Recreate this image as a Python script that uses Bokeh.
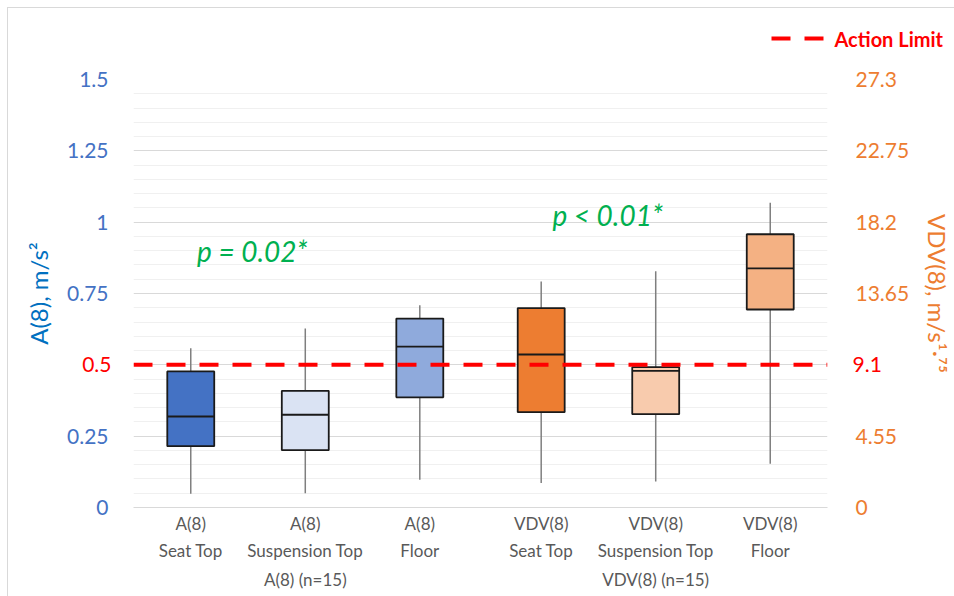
from bokeh.plotting import figure
from bokeh.layouts import column
from bokeh.models import (FactorRange, Range1d, LinearAxis, FixedTicker, CustomJSTickFormatter,
                          ColumnDataSource)
from bokeh.core.properties import value
from bokeh.embed import file_html
from bokeh.resources import INLINE

# ---------------- data ----------------
groups = ["A(8) (n=15)", "VDV(8) (n=15)"]
a_labels = ["A(8)\nSeat Top", "A(8)\nSuspension Top", "A(8)\nFloor"]
v_labels = ["VDV(8)\nSeat Top", "VDV(8)\nSuspension Top", "VDV(8)\nFloor"]

# A(8), m/s^2
a_low = [0.048, 0.050, 0.097]
a_q1 = [0.215, 0.201, 0.386]
a_med = [0.319, 0.325, 0.564]
a_q3 = [0.477, 0.409, 0.662]
a_high = [0.558, 0.627, 0.709]

# VDV(8), m/s^1.75
v_low = [1.57, 1.66, 2.79]
v_q1 = [6.08, 5.95, 12.63]
v_med = [9.76, 8.72, 15.25]
v_q3 = [12.72, 8.95, 17.43]
v_high = [14.42, 15.07, 19.44]

a_colors = ["#4472C4", "#DAE3F3", "#8FAADC"]
v_colors = ["#ED7D31", "#F8CBAD", "#F4B183"]

left_ticks = [0, 0.25, 0.5, 0.75, 1, 1.25, 1.5]
right_ticks = [0, 4.55, 9.1, 13.65, 18.2, 22.75, 27.3]
left_max = 1.5
right_max = 27.3

a_limit = 0.5
v_limit = 9.1
limit_label = "Action Limit"

p_texts = ["p = 0.02*", "p < 0.01*"]
p_y = [0.90, 1.024]

# ---------------- main figure ----------------
a_factors = [(groups[0], l) for l in a_labels]
v_factors = [(groups[1], l) for l in v_labels]
GP = 0.06
x_range = FactorRange(*(a_factors + v_factors), factor_padding=0, group_padding=GP, range_padding=0)
x_end = len(a_factors) + len(v_factors) + GP   # synthetic right edge of the frame

TOP_H = 50
FW, FH = 694, 428
BL, BR = 125, 127
fig = figure(x_range=x_range, y_range=Range1d(0, left_max),
             frame_width=FW, frame_height=FH,
             min_border_left=BL, min_border_right=BR, min_border_top=71 - TOP_H, min_border_bottom=89,
             output_backend="svg", toolbar_location=None)
fig.extra_y_ranges = {"vdv": Range1d(0, right_max)}
fig.outline_line_color = None
fig.background_fill_color = "white"
fig.border_fill_color = "white"

FONT = "Lato"
RED = "#FF0000"
LABEL_W = 29          # approx. width of a "0.5"/"9.1" tick label, px
minor = [round(0.05 * i, 2) for i in range(0, 31) if i % 5 != 0]
skip_js = "return Math.abs(tick - skip) < 1e-9 ? '' : tick.toString();"
plain_js = "return tick.toString();"


def style_y(ax, color, standoff):
    ax.axis_line_color = None
    ax.major_tick_line_color = None
    ax.minor_tick_line_color = None
    ax.major_tick_out = 0
    ax.major_tick_in = 0
    ax.minor_tick_out = 0
    ax.minor_tick_in = 0
    ax.major_label_text_color = color
    ax.major_label_text_font = FONT
    ax.major_label_text_font_size = "21px"
    ax.major_label_standoff = standoff


# left: red limit axis adjacent to the frame, blue axis pulled back over it
ly = fig.yaxis[0]
ly.ticker = FixedTicker(ticks=left_ticks, minor_ticks=minor)
ly.formatter = CustomJSTickFormatter(args=dict(skip=a_limit), code=skip_js)
style_y(ly, "#4472C4", -LABEL_W)
ly.axis_label = "A(8), m/s²"
ly.axis_label_text_color = "#0070C0"
ly.axis_label_text_font = FONT
ly.axis_label_text_font_size = "24px"
ly.axis_label_text_font_style = "normal"
ly.axis_label_standoff = 11

ly_red = LinearAxis(ticker=FixedTicker(ticks=[a_limit]), formatter=CustomJSTickFormatter(code=plain_js))
style_y(ly_red, RED, 22)
fig.left = [ly_red, ly]

# right: red limit axis adjacent, orange axis pulled back over it
ry_red = LinearAxis(y_range_name="vdv", ticker=FixedTicker(ticks=[v_limit]),
                    formatter=CustomJSTickFormatter(code=plain_js))
style_y(ry_red, RED, 25)
ry = LinearAxis(y_range_name="vdv", ticker=FixedTicker(ticks=right_ticks),
                formatter=CustomJSTickFormatter(args=dict(skip=v_limit), code=skip_js))
style_y(ry, "#ED7D31", -LABEL_W)
ry.axis_label = "VDV(8), m/s¹·⁷⁵"
ry.axis_label_text_color = "#ED7D31"
ry.axis_label_text_font = FONT
ry.axis_label_text_font_size = "24px"
ry.axis_label_text_font_style = "normal"
ry.axis_label_standoff = 11
fig.right = [ry_red, ry]

# grid
fig.xgrid.grid_line_color = None
fig.ygrid.ticker = FixedTicker(ticks=left_ticks, minor_ticks=minor)
fig.ygrid.grid_line_color = "#D9D9D9"
fig.ygrid.grid_line_width = 1
fig.ygrid.minor_grid_line_color = "#F0F0F0"
fig.ygrid.minor_grid_line_width = 1

# x axis
xa = fig.xaxis[0]
xa.axis_line_color = "#D9D9D9"
xa.major_tick_line_color = None
xa.minor_tick_line_color = None
xa.major_tick_out = 0
xa.major_tick_in = 0
xa.major_label_text_color = "#595959"
xa.major_label_text_font = FONT
xa.major_label_text_font_size = "17px"
xa.major_label_text_line_height = 1.31
xa.major_label_standoff = 5
xa.group_text_color = "#595959"
xa.group_text_font = FONT
xa.group_text_font_size = "17px"
xa.group_text_font_style = "normal"
xa.separator_line_color = None

# boxes
a_src = ColumnDataSource(dict(x=a_factors, low=a_low, q1=a_q1, med=a_med, q3=a_q3, high=a_high, color=a_colors))
v_src = ColumnDataSource(dict(x=v_factors, low=v_low, q1=v_q1, med=v_med, q3=v_q3, high=v_high, color=v_colors))

BW = 0.41
for src, rn in [(a_src, "default"), (v_src, "vdv")]:
    fig.segment(x0="x", y0="low", x1="x", y1="high", source=src, y_range_name=rn,
                line_color="#7F7F7F", line_width=1.5)
    fig.vbar(x="x", top="q3", bottom="q1", width=BW, source=src, y_range_name=rn,
             fill_color="color", line_color="#1A1A1A", line_width=1.8)
    fig.vbar(x="x", top="med", bottom="med", width=BW, source=src, y_range_name=rn,
             fill_alpha=0, line_color="#1A1A1A", line_width=1.8)

# action limit: a line across the whole frame (synthetic x from 0 to the right edge)
LIM_STYLE = dict(line_color=RED, line_width=4, line_dash="19 14")
lim_src = ColumnDataSource(dict(x=[0, x_end], y=[a_limit, a_limit]))
fig.line(x="x", y="y", source=lim_src, **LIM_STYLE)

# p-values
p_src = ColumnDataSource(dict(x=[a_factors[1], v_factors[1]], y=p_y, text=p_texts, xo=[-53, -48]))
fig.text(x="x", y="y", text="text", x_offset="xo", source=p_src, text_align="center",
         text_baseline="middle", text_color="#00B050", text_font=value(FONT),
         text_font_size="28px", text_font_style="italic")

# ---------------- legend strip on top ----------------
# the column aligns the strip's frame with the main frame's left edge, so the
# strip uses pixel units measured from that edge
TW = BL + FW + BR - BL
top = figure(x_range=Range1d(0, TW), y_range=Range1d(0, TOP_H),
             frame_width=TW, frame_height=TOP_H,
             min_border_left=BL, min_border_right=0, min_border_top=0, min_border_bottom=0,
             x_axis_location=None, y_axis_location=None,
             output_backend="svg", toolbar_location=None)
top.outline_line_color = None
top.grid.visible = False
top.background_fill_color = "white"
top.border_fill_color = "white"

SW_X0, SW_X1, SW_Y, TXT_X = 638, 690, 20, 701   # legend swatch / label position in the strip
top.segment(x0=[SW_X0], y0=[SW_Y], x1=[SW_X1], y1=[SW_Y], **LIM_STYLE)
top.text(x=[TXT_X], y=[SW_Y], text=[limit_label], text_align="left", text_baseline="middle",
         text_color=RED, text_font=value(FONT), text_font_size="20px", text_font_style="bold")

p = column(top, fig, spacing=0,
           styles={"margin-left": "7px", "margin-top": "7px",
                   "border-left": "1px solid #D9D9D9", "border-top": "1px solid #D9D9D9"})

open("out.html", "w").write(file_html(p, INLINE))
